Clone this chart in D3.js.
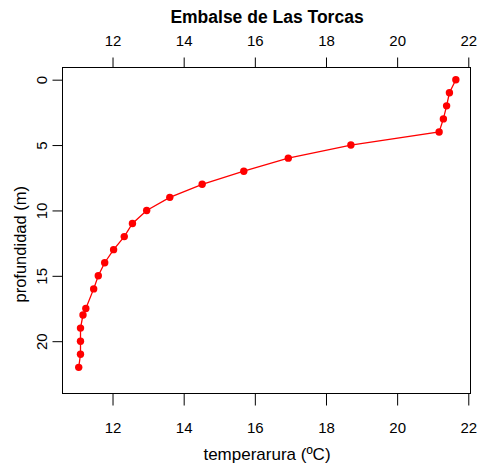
<!DOCTYPE html>
<html><head><meta charset="utf-8">
<script src="https://cdn.jsdelivr.net/npm/d3@7"></script>
<style>body{margin:0;background:#fff}svg{display:block}text{font-family:"Liberation Sans",Arial,sans-serif;fill:#000}</style>
</head><body><div id="chart"></div>
<script>
const depths = [0,1,2,3,4,5,6,7,8,9,10,11,12,13,14,15,16,17.5,18,19,20,21,22];
const temps  = [21.65,21.47,21.39,21.30,21.18,18.70,16.94,15.69,14.52,13.61,12.96,12.56,12.33,12.03,11.78,11.60,11.47,11.25,11.17,11.10,11.10,11.10,11.05];
const xTicks = [12,14,16,18,20,22];
const yTicks = [0,5,10,15,20];
const title = "Embalse de Las Torcas";
const xLabel = "temperarura (ºC)";
const yLabel = "profundidad (m)";

const W = 478, H = 467;
const box = {l:62.5, r:470.5, t:67, b:393.5};
const svg = d3.select("#chart").append("svg").attr("width",W).attr("height",H);

const x = d3.scaleLinear().domain([10.594, 22.062]).range([box.l, box.r]);
const y = d3.scaleLinear().domain([-0.97, 24.0]).range([box.t, box.b]);

// box
svg.append("rect").attr("x",box.l).attr("y",box.t+0.5).attr("width",box.r-box.l).attr("height",box.b-box.t-0.5)
  .attr("fill","none").attr("stroke","#000").attr("stroke-width",1);

// bottom axis
const gb = svg.append("g").attr("transform",`translate(0,${box.b})`)
  .call(d3.axisBottom(x).tickValues(xTicks).tickSize(12).tickPadding(17).tickFormat(d3.format("d")));
gb.select(".domain").remove();
gb.selectAll("text").style("font-size","15px").style("font-family","'Liberation Sans',Arial,sans-serif");

// top axis
const gt = svg.append("g").attr("transform",`translate(0,${box.t+0.5})`)
  .call(d3.axisTop(x).tickValues(xTicks).tickSize(10).tickPadding(12).tickFormat(d3.format("d")));
gt.select(".domain").remove();
gt.selectAll("text").style("font-size","15px").style("font-family","'Liberation Sans',Arial,sans-serif");

// left axis
const gl = svg.append("g").attr("transform",`translate(${box.l},0)`)
  .call(d3.axisLeft(y).tickValues(yTicks).tickSize(10).tickFormat(d3.format("d")));
gl.select(".domain").remove();
gl.selectAll("text").remove();
gl.selectAll(".tick").append("text")
  .attr("transform","translate(-16,0) rotate(-90)")
  .attr("text-anchor","middle").attr("dy","0")
  .style("font-size","15px").style("fill","#000")
  .text(d=>d);

svg.selectAll(".tick line").attr("stroke","#000");

// line + points
const line = d3.line().x((d,i)=>x(temps[i])).y(d=>y(d));
svg.append("path").datum(depths).attr("d",line).attr("fill","none").attr("stroke","#ff0000").attr("stroke-width",1.3);
svg.selectAll("circle.pt").data(depths).enter().append("circle").attr("class","pt")
  .attr("cx",(d,i)=>x(temps[i])).attr("cy",d=>y(d)).attr("r",3.7).attr("fill","#ff0000");

// titles
svg.append("text").attr("x",267).attr("y",22.5).attr("text-anchor","middle")
  .style("font-size","17.5px").style("font-weight","bold").text(title);
svg.append("text").attr("x",267).attr("y",460).attr("text-anchor","middle")
  .style("font-size","17px").text(xLabel);
svg.append("text").attr("transform",`translate(26,${(box.t+box.b)/2+14}) rotate(-90)`).attr("text-anchor","middle")
  .style("font-size","16.5px").text(yLabel);
</script></body></html>
